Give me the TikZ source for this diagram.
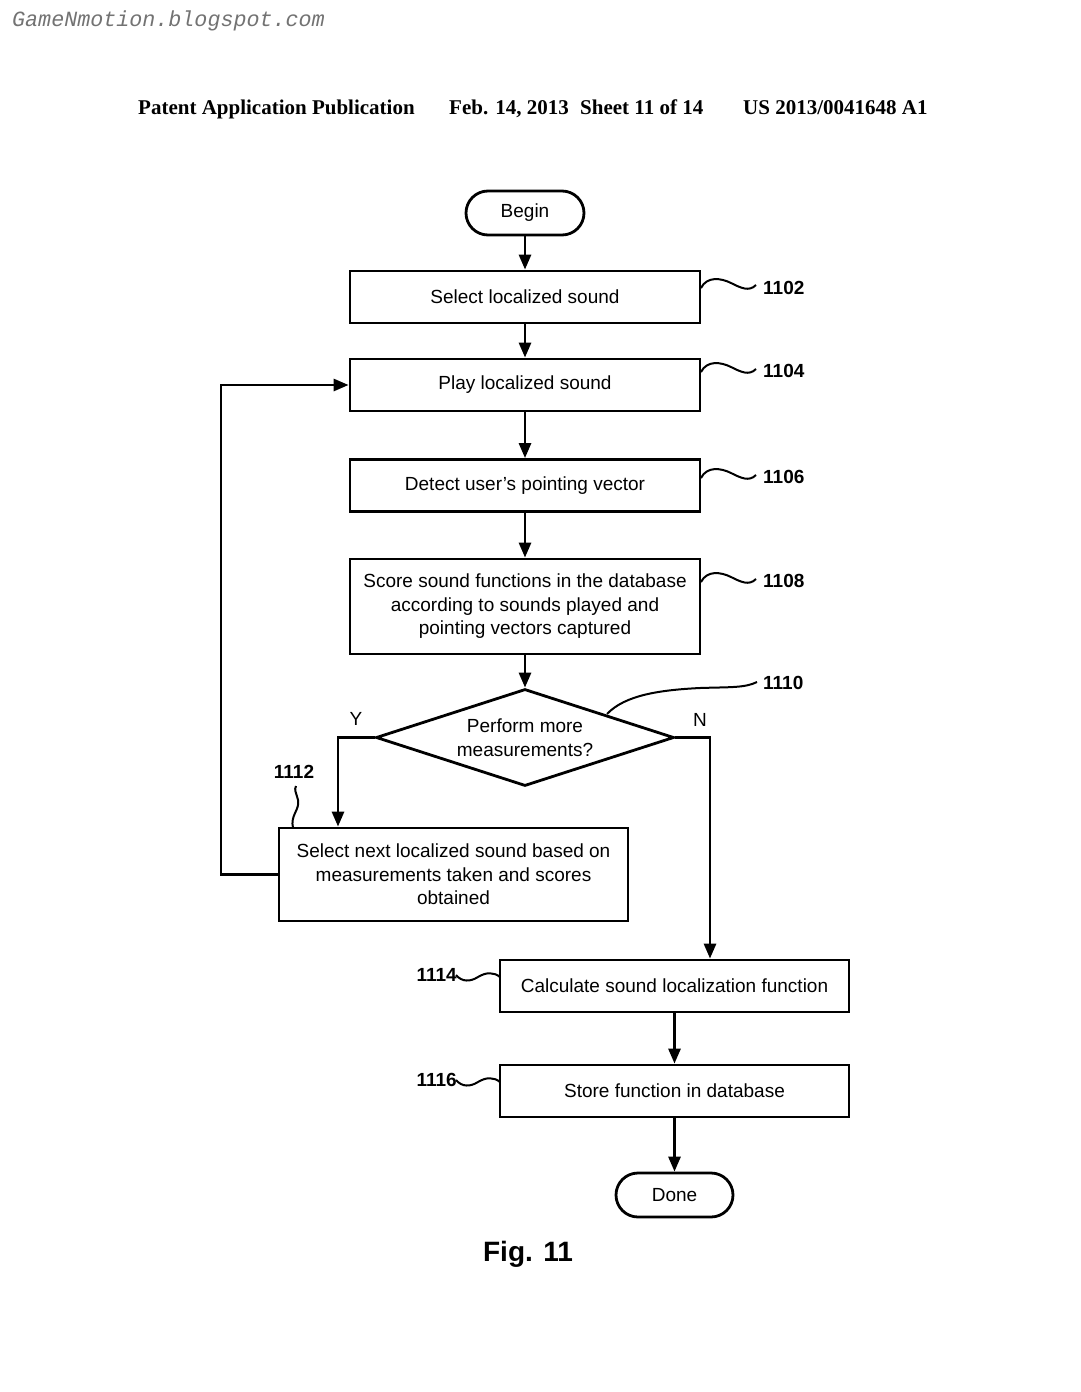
\documentclass[tikz,border=0pt]{standalone}
\usepackage{fontspec}
\setmainfont{Liberation Sans}
\newfontfamily\hdrfont{Liberation Serif}
\newfontfamily\wmfont{Liberation Mono}
\usetikzlibrary{shapes.geometric,arrows.meta,calc}
\begin{document}
\begin{tikzpicture}[x=1pt,y=-1pt,
  txt/.style={font=\fontsize{19}{23.5}\selectfont},
  proc/.style={txt,draw,line width=2.8pt,minimum width=350pt,minimum height=52pt,inner sep=0pt,align=center},
  term/.style={txt,draw,line width=2.8pt,rounded corners=22pt,minimum width=118pt,minimum height=44pt,inner sep=0pt},
  decis/.style={txt,draw,line width=2.8pt,shape=diamond,aspect=3.07,minimum width=298pt,minimum height=97pt,inner sep=0pt,align=center},
  arr/.style={line width=2.8pt,-{Triangle[length=15pt,width=12pt]}},
  lead/.style={line width=2pt},
  lbl/.style={font=\bfseries\fontsize{19}{20}\selectfont,inner sep=0pt},
  hdr/.style={font=\hdrfont\bfseries\fontsize{21}{24}\selectfont,inner sep=0pt,anchor=base west},
  pics/squig/.style={code={\draw[lead] (0,0) .. controls (6,-12) and (20,-10) .. (30,-5) .. controls (40,0) and (48,4) .. (55,-3);}},
  pics/squigL/.style={code={\draw[lead] (0,0) .. controls (6,7) and (14,7) .. (22,2) .. controls (30,-3) and (38,-3) .. (44,2);}}
]
\useasboundingbox (0,0) rectangle (1080,1392);
\fill[white] (0,0) rectangle (1080,1392);

% watermark and header
\node[font=\wmfont\itshape\fontsize{21.7}{24}\selectfont,text=black!55,anchor=base west,inner sep=0pt] (wm) at (12,26) {GameNmotion.blogspot.com};
\node[hdr] (h1) at (138,114) {Patent Application Publication};
\node[hdr] (h2) at (449,114) {Feb. 14, 2013};
\node[hdr] (h3) at (580,114) {Sheet 11 of 14};
\node[hdr] (h4) at (743,114) {US 2013/0041648 A1};

% nodes
\node[term] (begin) at (525,213) {Begin};
\node[proc] (b1102) at (525,297) {Select localized sound};
\node[proc] (b1104) at (525,385) {Play localized sound};
\node[proc] (b1106) at (525,485.5) {Detect user's pointing vector};
\node[proc,minimum height=95pt] (b1108) at (525,606.5) {Score sound functions in the database\\according to sounds played and\\pointing vectors captured};
\node[decis] (dia) at (525,737.5) {Perform more\\measurements?};
\node[proc,minimum width=349pt,minimum height=93pt] (b1112) at (453.5,874.5) {Select next localized sound based on\\measurements taken and scores\\obtained};
\node[proc,minimum width=349pt] (b1114) at (674.5,986) {Calculate sound localization function};
\node[proc,minimum width=349pt] (b1116) at (674.5,1091) {Store function in database};
\node[term,minimum width=117pt] (done) at (674.5,1195) {Done};

\node[font=\bfseries\fontsize{28}{30}\selectfont,inner sep=0pt] (fig) at (528,1254) {Fig. 11};

% Y / N labels
\node[txt,inner sep=0pt] (ylab) at (356,719) {Y};
\node[txt,inner sep=0pt] (nlab) at (700,720) {N};

% connectors
\draw[arr] (begin) -- (b1102);
\draw[arr] (b1102) -- (b1104);
\draw[arr] (b1104) -- (b1106);
\draw[arr] (b1106) -- (b1108);
\draw[arr] (b1108) -- (dia);
\coordinate (yturn) at (338,737.5);
\coordinate (nturn) at (710,737.5);
\coordinate (loopB) at (221,874.5);
\coordinate (loopT) at (221,385);
\draw[arr] (dia.west) -- (yturn) -- (yturn |- b1112.north);
\draw[arr] (dia.east) -- (nturn) -- (nturn |- b1114.north);
\draw[arr] (b1112.west) -- (loopB) -- (loopT) -- (b1104.west);
\draw[arr] (b1114) -- (b1116);
\draw[arr] (b1116) -- (done);

% reference labels
\node[lbl,anchor=west] (l1102) at (763,288) {1102};
\node[lbl,anchor=west] (l1104) at (763,371) {1104};
\node[lbl,anchor=west] (l1106) at (763,477) {1106};
\node[lbl,anchor=west] (l1108) at (763,581) {1108};
\node[lbl,anchor=west] (l1110) at (763,683) {1110};
\node[lbl] (l1112) at (294,772) {1112};
\node[lbl,anchor=east] (l1114) at (457,975) {1114};
\node[lbl,anchor=east] (l1116) at (457,1080) {1116};

\pic at (701,288) {squig};
\pic at (701,372) {squig};
\pic at (701,478) {squig};
\pic at (701,582) {squig};
\draw[lead] (607,714) .. controls (625,695) and (660,690) .. (700,688) .. controls (730,687) and (745,688) .. (757,682);
\draw[lead] (293,828) .. controls (290,815) and (300,810) .. (298,800) .. controls (296,792) and (294,790) .. (296,786);
\pic at (456,975) {squigL};
\pic at (456,1080) {squigL};
\end{tikzpicture}
\end{document}
